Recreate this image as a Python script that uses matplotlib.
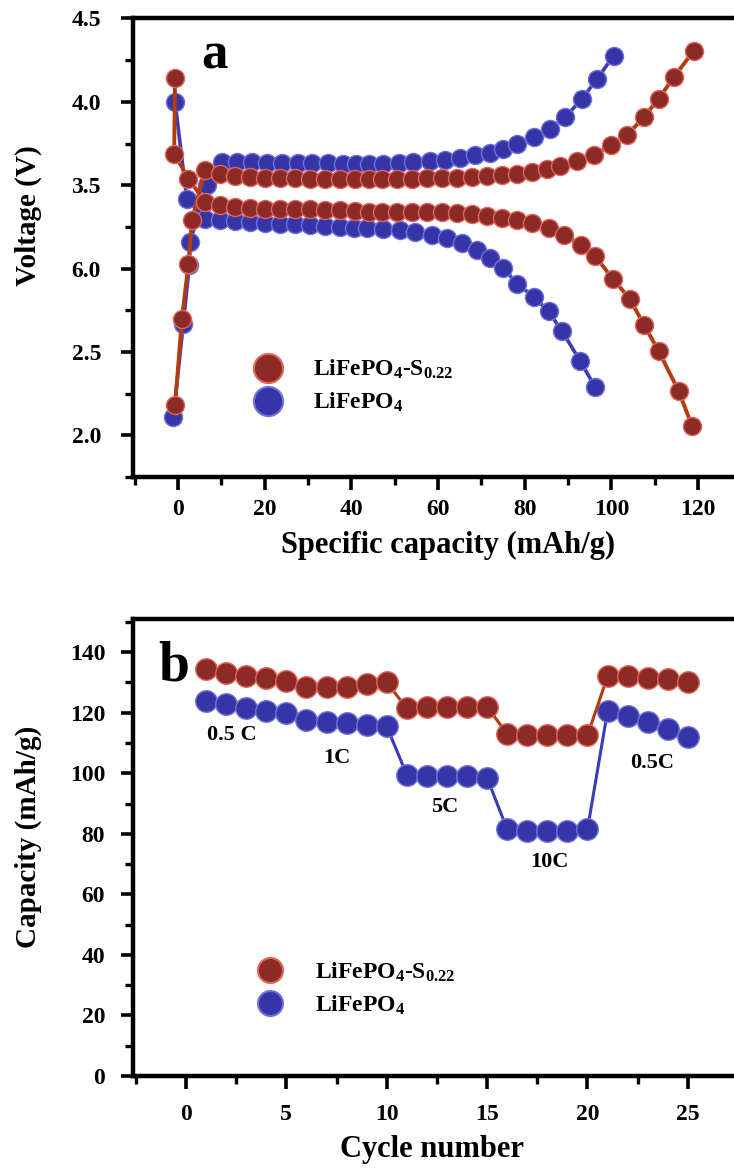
import numpy as np
import matplotlib
matplotlib.use("Agg")
import matplotlib.pyplot as plt
from matplotlib.lines import Line2D
from matplotlib.ticker import MultipleLocator

plt.rcParams["font.family"] = "Liberation Serif"
plt.rcParams["font.weight"] = "bold"
plt.rcParams["axes.labelweight"] = "bold"
plt.rcParams["mathtext.fontset"] = "custom"
plt.rcParams["mathtext.rm"] = "Liberation Serif:bold"
plt.rcParams["mathtext.it"] = "Liberation Serif:bold"
plt.rcParams["mathtext.bf"] = "Liberation Serif:bold"

LABEL_S = r"LiFePO$_4$-S$_{0.22}$"
LABEL_P = r"LiFePO$_4$"

# panel a : charge / discharge curves (capacity mAh/g, voltage V)
s_chg_cap = [-0.7, 0.9, 2.4, 3.2, 6.2, 9.7, 13.2, 16.6, 20.1, 23.6, 27.0, 30.5, 33.9, 37.4,
             40.8, 44.0, 47.0, 50.5, 54.0, 57.4, 60.9, 64.4, 67.8, 71.3, 74.8, 78.2, 81.7,
             85.1, 88.2, 92.1, 95.9, 99.8, 103.6, 107.5, 110.9, 114.4, 119.0]
s_chg_v = [2.18, 2.70, 3.03, 3.29, 3.59, 3.57, 3.555, 3.55, 3.545, 3.545, 3.545, 3.54, 3.54, 3.54,
           3.54, 3.54, 3.54, 3.54, 3.54, 3.544, 3.544, 3.546, 3.55, 3.554, 3.56, 3.57, 3.58,
           3.596, 3.616, 3.644, 3.679, 3.739, 3.799, 3.909, 4.018, 4.147, 4.306]

s_dis_cap = [-0.7, -0.9, 2.4, 6.2, 9.7, 13.2, 16.6, 20.1, 23.6, 27.0, 30.5, 33.9, 37.4, 40.8,
             44.0, 47.0, 50.5, 54.0, 57.4, 60.9, 64.4, 67.8, 71.3, 74.8, 78.2, 81.7, 85.5,
             89.0, 92.9, 96.3, 100.3, 104.2, 107.5, 110.9, 115.5, 118.6]
s_dis_v = [4.14, 3.69, 3.54, 3.40, 3.38, 3.37, 3.365, 3.36, 3.36, 3.355, 3.355, 3.35, 3.35, 3.345,
           3.342, 3.342, 3.342, 3.342, 3.342, 3.337, 3.331, 3.325, 3.318, 3.306, 3.291, 3.272, 3.242,
           3.202, 3.142, 3.073, 2.94, 2.82, 2.664, 2.506, 2.267, 2.058]

p_chg_cap = [-1.1, 1.2, 2.6, 2.8, 6.7, 10.1, 13.6, 17.1, 20.6, 24.1, 27.6, 31.0, 34.5, 38.0,
             41.0, 44.0, 47.4, 50.9, 54.3, 58.2, 61.7, 65.1, 68.6, 72.1, 75.1, 78.2, 82.1,
             85.9, 89.4, 93.2, 96.7, 100.5]
p_chg_v = [2.11, 2.67, 3.02, 3.16, 3.50, 3.64, 3.64, 3.64, 3.635, 3.635, 3.635, 3.635, 3.635, 3.63,
           3.63, 3.63, 3.63, 3.636, 3.64, 3.644, 3.652, 3.664, 3.679, 3.696, 3.719, 3.749, 3.789,
           3.839, 3.909, 4.018, 4.137, 4.276]

p_dis_cap = [-0.7, 2.0, 6.2, 9.7, 13.2, 16.6, 20.1, 23.6, 27.0, 30.5, 33.9, 37.4, 40.5, 43.6,
             47.4, 51.3, 54.7, 58.6, 62.0, 65.5, 69.0, 72.1, 75.1, 78.2, 82.1, 85.5, 88.6,
             92.8, 96.3]
p_dis_v = [4.00, 3.42, 3.30, 3.29, 3.285, 3.28, 3.275, 3.27, 3.265, 3.26, 3.255, 3.25, 3.245, 3.242,
           3.238, 3.232, 3.222, 3.202, 3.182, 3.152, 3.112, 3.063, 3.003, 2.91, 2.83, 2.744, 2.625,
           2.446, 2.287]

volt_ticks = [2.0, 2.5, 3.0, 3.5, 4.0, 4.5]
volt_ticklabels = ["2.0", "2.5", "6.0", "3.5", "4.0", "4.5"]
cap_ticks = [0, 20, 40, 60, 80, 100, 120]

# panel b : rate capability
cycles = list(range(1, 26))
s_rate = [134.5, 133, 132, 131.5, 130.5, 128.5, 128.5, 128.5, 129.5, 130,
          121.5, 122, 122, 122, 122, 113, 112.5, 112.5, 112.5, 112.5,
          132, 132, 131.5, 131, 130]
p_rate = [124, 123, 121.5, 120.5, 120, 117.5, 117, 116.5, 116, 115.5,
          99.5, 99, 99, 99, 98.5, 81.5, 81, 81, 81, 81.5,
          120.5, 119, 117, 114.5, 112]
rate_names = ["0.5 C", "1C", "5C", "10C", "0.5C"]
rate_x = [2.3, 7.5, 12.9, 18.1, 23.2]
rate_y = [112.6, 105, 88.8, 70.7, 103.4]

RED_FACE, RED_EDGE, RED_LINE = "#8c2a26", "#e0655c", "#b23c10"
BLUE_FACE, BLUE_EDGE, BLUE_LINE = "#3535a8", "#7070dc", "#3b3bb8"


def style_axes(ax):
    ax.spines["right"].set_visible(False)
    for side in ["left", "bottom", "top"]:
        ax.spines[side].set_linewidth(3.2)
    ax.tick_params(which="major", direction="out", length=9, width=2.6, labelsize=17)
    ax.tick_params(which="minor", direction="out", length=6, width=2.4)
    ax.tick_params(top=False, right=False, which="both")


def legend(ax, ms, anchor):
    handles = [
        Line2D([], [], ls="none", marker="o", ms=ms, mfc=RED_FACE, mec=RED_EDGE, mew=1.5),
        Line2D([], [], ls="none", marker="o", ms=ms, mfc=BLUE_FACE, mec=BLUE_EDGE, mew=1.5),
    ]
    ax.legend(handles, [LABEL_S, LABEL_P], loc="center left", bbox_to_anchor=anchor,
              frameon=False, fontsize=17, handlelength=1.4, handletextpad=1.2,
              labelspacing=0.4, borderpad=0, borderaxespad=0)


fig = plt.figure(figsize=(7.34, 11.68), dpi=100)
ax1 = fig.add_axes([0.1812, 0.5916, 0.8188, 0.3926])
ax2 = fig.add_axes([0.1812, 0.0788, 0.8188, 0.3913])

# ---- panel a
ms_a = 13
ax1.plot(p_chg_cap, p_chg_v, "-o", color=BLUE_LINE, lw=2.6, ms=ms_a,
         mfc=BLUE_FACE, mec=BLUE_EDGE, mew=1.0, zorder=2)
ax1.plot(p_dis_cap, p_dis_v, "-o", color=BLUE_LINE, lw=2.6, ms=ms_a,
         mfc=BLUE_FACE, mec=BLUE_EDGE, mew=1.0, zorder=2)
ax1.plot(s_chg_cap, s_chg_v, "-o", color=RED_LINE, lw=2.8, ms=ms_a,
         mfc=RED_FACE, mec=RED_EDGE, mew=1.0, zorder=3)
ax1.plot(s_dis_cap, s_dis_v, "-o", color=RED_LINE, lw=2.8, ms=ms_a,
         mfc=RED_FACE, mec=RED_EDGE, mew=1.0, zorder=3)

ax1.set_xlim(-10.4, 128.3)
ax1.set_ylim(1.75, 4.5)
ax1.set_xticks(cap_ticks)
ax1.xaxis.set_minor_locator(MultipleLocator(10))
ax1.set_yticks(volt_ticks)
ax1.set_yticklabels(volt_ticklabels)
ax1.yaxis.set_minor_locator(MultipleLocator(0.25))
style_axes(ax1)
ax1.tick_params(axis="y", pad=14)
ax1.tick_params(axis="x", pad=7)
ax1.set_ylabel("Voltage (V)", fontsize=21)
ax1.yaxis.set_label_coords(-0.152, 0.571)
ax1.set_xlabel("Specific capacity (mAh/g)", fontsize=22)
ax1.xaxis.set_label_coords(0.524, -0.118)
ax1.text(0.136, 0.92, "a", transform=ax1.transAxes, fontsize=38, ha="center", va="center")
legend(ax1, 21, (0.197, 0.198))

# ---- panel b
ms_b = 15.5
ax2.plot(cycles, p_rate, "-o", color=BLUE_LINE, lw=2.2, ms=ms_b,
         mfc=BLUE_FACE, mec=BLUE_EDGE, mew=1.0, zorder=2)
ax2.plot(cycles, s_rate, "-o", color=RED_LINE, lw=2.2, ms=ms_b,
         mfc=RED_FACE, mec=RED_EDGE, mew=1.0, zorder=3)
for name, x, y in zip(rate_names, rate_x, rate_y):
    ax2.text(x, y, name, fontsize=16, ha="center", va="center")

ax2.set_xlim(-2.64, 27.3)
ax2.set_ylim(0, 151)
ax2.set_xticks([0, 5, 10, 15, 20, 25])
ax2.xaxis.set_minor_locator(MultipleLocator(2.5))
ax2.set_yticks([0, 20, 40, 60, 80, 100, 120, 140])
ax2.yaxis.set_minor_locator(MultipleLocator(10))
style_axes(ax2)
ax2.tick_params(axis="y", pad=11)
ax2.tick_params(axis="x", pad=11)
ax2.set_ylabel("Capacity (mAh/g)", fontsize=21)
ax2.yaxis.set_label_coords(-0.152, 0.523)
ax2.set_xlabel("Cycle number", fontsize=22)
ax2.xaxis.set_label_coords(0.497, -0.13)
ax2.text(0.067, 0.895, "b", transform=ax2.transAxes, fontsize=40, ha="center", va="center")
legend(ax2, 18, (0.2, 0.191))

fig.savefig("out.png", dpi=100)
